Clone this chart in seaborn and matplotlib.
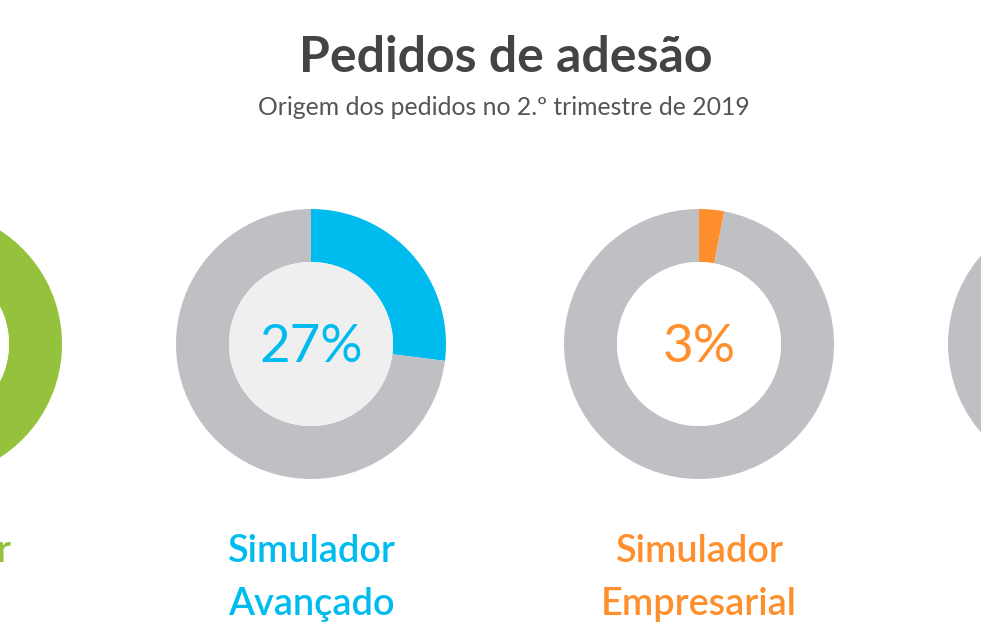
import matplotlib.pyplot as plt
import seaborn as sns
from matplotlib.patches import Circle

# Dados: origem dos pedidos de adesão (2.º trimestre de 2019)
origens = ["Simulador\nSimples", "Simulador\nAvançado", "Simulador\nEmpresarial", "Outros\nCanais"]
percentagens = [70, 27, 3, 0]
cores = ["#95c23d", "#00bcee", "#ff8f2c", "#bfc0c4"]
fundo_interior = ["#ffffff", "#efefef", "#ffffff", "#ffffff"]

cinza = "#bfc0c4"
W, H = 981, 639

sns.set_theme(style="white")
plt.rcParams["font.family"] = ["Lato", "DejaVu Sans"]

fig = plt.figure(figsize=(W / 100, H / 100), dpi=100)
ax = fig.add_axes([0, 0, 1, 1])

# posições do carrossel (centro em x, em pixels)
centros_x = [-73, 311, 699, 1083]
centro_y = H - 344
raio = 135
espessura = 53

for cx, pct, cor, fundo, nome in zip(centros_x, percentagens, cores, fundo_interior, origens):
    ax.pie([pct, 100 - pct], colors=[cor, cinza], startangle=90, counterclock=False,
           center=(cx, centro_y), radius=raio,
           wedgeprops=dict(width=espessura, linewidth=0))
    ax.add_patch(Circle((cx, centro_y), raio - espessura, facecolor=fundo, edgecolor="none"))
    if pct > 0:
        ax.text(cx, centro_y - 4, f"{pct}%", ha="center", va="center", color=cor,
                fontsize=38, fontweight="normal")
    linha1, linha2 = nome.split("\n")
    ax.text(cx, H - 562, linha1, ha="center", va="baseline", color=cor,
            fontsize=27.3, fontweight="semibold")
    ax.text(cx, H - 615, linha2, ha="center", va="baseline", color=cor,
            fontsize=27.3, fontweight="semibold")

ax.text(506, H - 72, "Pedidos de adesão", ha="center", va="baseline",
        color="#444444", fontsize=36, fontweight="bold")
ax.text(504, H - 115, "Origem dos pedidos no 2.º trimestre de 2019", ha="center",
        va="baseline", color="#555555", fontsize=17.8)

ax.set_xlim(0, W)
ax.set_ylim(0, H)
ax.set_aspect("auto")
ax.set_axis_off()

fig.savefig("out.png", dpi=100, facecolor="white")
